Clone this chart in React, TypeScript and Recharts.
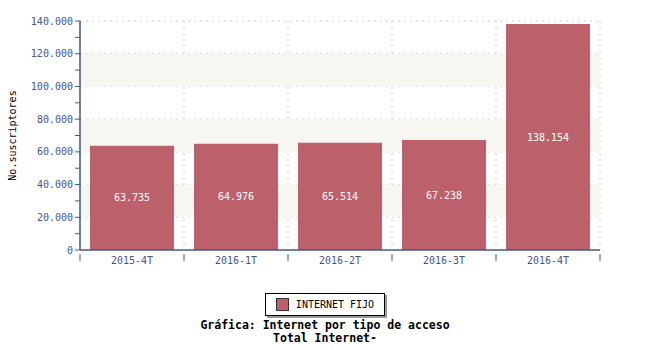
import {
  BarChart,
  Bar,
  XAxis,
  YAxis,
  CartesianGrid,
  ReferenceArea,
  LabelList,
} from "recharts";

const periods = ["2015-4T", "2016-1T", "2016-2T", "2016-3T", "2016-4T"];
const internetFijo = [63735, 64976, 65514, 67238, 138154];
const yTicks = [0, 10000, 20000, 30000, 40000, 50000, 60000, 70000, 80000, 90000, 100000, 110000, 120000, 130000, 140000];
const gridValues = [20000, 40000, 60000, 80000, 100000, 120000, 140000];
const shadedBands = [
  [20000, 40000],
  [60000, 80000],
  [100000, 120000],
];

const BAR_COLOR = "#bc616b";
const AXIS_COLOR = "#4a5580";
const MONO = "'DejaVu Sans Mono', 'Liberation Mono', monospace";

const chartData = periods.map((p, i) => ({ period: p, value: internetFijo[i] }));

// 140000 -> "140.000"
const fmtThousands = (v: number) => String(Math.round(v)).replace(/\B(?=(\d{3})+(?!\d))/g, ".");

// category label in the middle, tick mark on the left edge of each band (and the right edge of the last)
const CategoryTick = (props: any) => {
  const { x, y, payload, index } = props;
  const half = payload?.offset ?? 0;
  const isLast = index === periods.length - 1;
  return (
    <g>
      <line x1={x - half} x2={x - half} y1={y - 2} y2={y + 5} stroke={AXIS_COLOR} />
      {isLast && <line x1={x + half} x2={x + half} y1={y - 2} y2={y + 5} stroke={AXIS_COLOR} />}
      <text x={x} y={y + 8} textAnchor="middle" fill={AXIS_COLOR} fontSize={10} fontFamily={MONO}>
        {payload.value}
      </text>
    </g>
  );
};

const bandEdges = ({ offset }: any) =>
  periods.map((_, i) => offset.left + (i * offset.width) / periods.length).concat([offset.left + offset.width]);

const LegendAndTitle = () => (
  <div style={{ position: "absolute", left: 0, top: 293, width: 650, fontFamily: MONO, textAlign: "center" }}>
    <div
      style={{
        display: "inline-flex",
        alignItems: "center",
        border: "1px solid #000",
        background: "#fff",
        boxShadow: "2px 2px 0 #999",
        padding: "4px 10px 4px 10px",
        fontSize: 10,
        lineHeight: "12px",
        color: "#000",
      }}
    >
      <span
        style={{
          width: 11,
          height: 11,
          background: BAR_COLOR,
          border: "1px solid #333",
          marginRight: 7,
          display: "inline-block",
        }}
      />
      INTERNET FIJO
    </div>
    <div style={{ fontWeight: "bold", fontSize: 11.5, color: "#000", marginTop: 3, lineHeight: "13px" }}>
      Gráfica: Internet por tipo de acceso
      <br />
      Total Internet-
    </div>
  </div>
);

export default function App() {
  return (
    <div style={{ position: "absolute", left: 0, top: 0, width: 650, height: 350, background: "#fff" }}>
      <BarChart
        width={650}
        height={350}
        data={chartData}
        margin={{ top: 21, right: 50, bottom: 80, left: 10 }}
        barCategoryGap={10}
      >
        {shadedBands.map(([y1, y2]) => (
          <ReferenceArea key={y1} y1={y1} y2={y2} fill="#f7f7f2" fillOpacity={1} stroke="none" ifOverflow="visible" />
        ))}
        <CartesianGrid
          stroke="#c8c8c8"
          strokeDasharray="2 4"
          horizontalValues={gridValues}
          verticalCoordinatesGenerator={bandEdges}
        />
        <XAxis
          dataKey="period"
          height={20}
          interval={0}
          tickLine={false}
          axisLine={{ stroke: AXIS_COLOR, strokeWidth: 1.5 }}
          tick={<CategoryTick />}
          tickMargin={0}
        />
        <YAxis
          width={70}
          domain={[0, 140000]}
          ticks={yTicks}
          interval={0}
          tickFormatter={(v: number) => (v % 20000 === 0 ? fmtThousands(v) : "")}
          tick={{ fill: AXIS_COLOR, fontSize: 10, fontFamily: MONO }}
          tickSize={5}
          tickLine={{ stroke: AXIS_COLOR }}
          axisLine={{ stroke: AXIS_COLOR, strokeWidth: 1.5 }}
          label={{
            value: "No.suscriptores",
            angle: -90,
            position: "insideLeft",
            offset: 2,
            style: { fill: "#000", fontSize: 10, fontFamily: MONO, textAnchor: "middle" },
          }}
        />
        <Bar dataKey="value" fill={BAR_COLOR} isAnimationActive={false}>
          <LabelList
            dataKey="value"
            position="center"
            formatter={(v: number) => fmtThousands(v)}
            style={{ fill: "#fff", fontSize: 10, fontFamily: MONO }}
          />
        </Bar>
      </BarChart>
      <LegendAndTitle />
    </div>
  );
}
